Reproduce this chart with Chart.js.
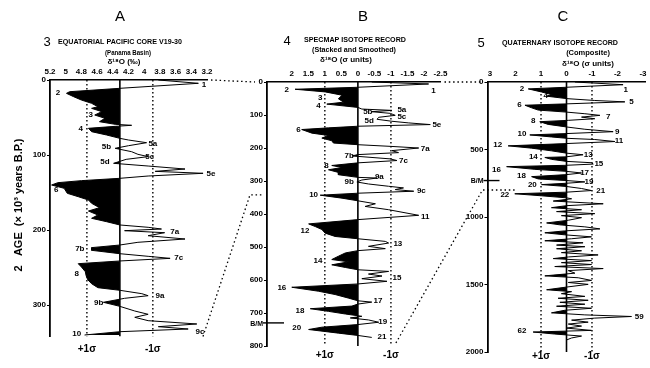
<!DOCTYPE html>
<html>
<head>
<meta charset="utf-8">
<script src="https://cdn.jsdelivr.net/npm/chart.js@4/dist/chart.umd.min.js"></script>
<style>
body { margin: 0; background: #fff; }
#wrap { position: relative; width: 650px; height: 368px; }
#wrap canvas { position: absolute; left: 0; top: 0; }
</style>
</head>
<body>
<div id="wrap">
<canvas id="cA" width="650" height="368"></canvas>
<canvas id="cB" width="650" height="368"></canvas>
<canvas id="cC" width="650" height="368"></canvas>
</div>
<script>
// A: V19-30 コア (年代 ka, δ18O ‰)
const ageA = [0, 4.4, 11.1, 15.6, 17.8, 22.2, 26.7, 31.1, 35.6, 37.8, 42.2, 46.7, 51.1, 55.6, 59.1, 60.4, 61.8, 64.4, 68.9, 73.3,
  77.8, 80, 83.6, 87.6, 91.1, 95.6, 99.1, 102.2, 105.8, 111.1, 114.7, 118.7, 121.8, 124.4, 128, 131.1, 134.2, 136.9, 140, 144.4,
  151.1, 155.6, 160, 164.4, 170.2, 174.7, 180, 184.4, 188.9, 193.3, 196.4, 198.7, 200.9, 203.6, 207.6, 212, 216.4, 220, 223.5, 227.1,
  231.6, 235.1, 237.8, 241.3, 244.9, 249.3, 255.6, 260.9, 266.2, 271.6, 276.9, 280.4, 284.9, 287.6, 291.1, 296.4, 301.8, 308, 312.4, 316.4,
  320.9, 325.3, 328.9, 332, 335.6, 340];
const valA = [3.82, 3.31, 4.31, 4.95, 4.99, 4.90, 4.80, 4.67, 4.59, 4.67, 4.54, 4.63, 4.50, 4.57, 4.37, 4.16, 4.37, 4.71, 4.67, 4.48,
  4.31, 4.20, 3.97, 4.20, 4.37, 4.16, 4.08, 3.95, 4.23, 4.39, 3.95, 3.48, 3.86, 3.25, 3.95, 4.31, 4.80, 5.10, 5.18, 5.02,
  4.98, 4.84, 4.71, 4.67, 4.57, 4.71, 4.59, 4.67, 4.48, 4.31, 3.95, 3.78, 4.25, 3.74, 3.95, 3.48, 4.08, 4.31, 4.67, 4.67,
  4.31, 3.95, 3.67, 4.31, 4.84, 4.80, 4.75, 4.74, 4.72, 4.67, 4.59, 4.31, 4.03, 3.95, 4.25, 4.52, 4.31, 4.12, 3.95, 4.12,
  3.95, 3.33, 3.82, 3.44, 4.31, 4.76];
const ticksAx = [5.2, 5, 4.8, 4.6, 4.4, 4.2, 4, 3.8, 3.6, 3.4, 3.2];
const ticksAy = [0, 100, 200, 300];
const stagesA = [['1', 6.7, 3.24], ['2', 17.7, 5.10], ['3', 46.7, 4.68], ['4', 65.3, 4.81], ['5a', 84.4, 3.89], ['5b', 88.8, 4.48],
  ['5c', 102, 3.93], ['5d', 109.7, 4.50], ['5e', 124.4, 3.15], ['6', 146.5, 5.12], ['7a', 203, 3.61], ['7b', 224.4, 4.82],
  ['7c', 237.7, 3.56], ['8', 259, 4.86], ['9a', 287.5, 3.80], ['9b', 296.8, 4.58], ['9c', 335.5, 3.29], ['10', 339, 4.86]];

// B: SPECMAP スタック (σ単位)
const ageB = [0, 6, 16, 22, 30, 40, 51, 61, 67, 77, 82, 86, 90, 95, 101, 107, 113, 119, 124, 129,
  134, 139, 144, 155, 162, 170, 178, 185, 190, 195, 200, 208, 214, 220, 224, 233, 238, 245, 253, 259,
  266, 274, 281, 289, 291, 297, 303, 309, 316, 321, 326, 331, 337, 343, 352, 360, 369, 377, 387, 404,
  417, 430, 438, 447, 458, 468, 475, 483, 488, 498, 505, 511, 518, 528, 538, 545, 554, 562, 569, 574,
  582, 588, 596, 604, 612, 622, 634, 644, 655, 663, 667, 673, 679, 687, 695, 703, 710, 715, 721, 728,
  735, 743, 750, 761, 768, 774];
const valB = [-0.42, -2.14, 0, 1.90, 0.99, 0.48, 0.59, 0.43, 0.94, 0, -0.12, -1.03, -0.42, -0.98, -1.13, -0.63, -0.58, -1.03, -1.54, -2.19,
  0, 0.89, 1.70, 1.39, 0.89, 1.09, 0.79, 0.74, 0, -0.98, -1.84, -1.03, -1.23, 0, 0.18, -0.98, -1.18, 0, 0.79, 0.48,
  0.89, 0.59, 0.59, 0, -0.58, -0.12, 0.03, -0.32, -0.93, -1.38, -1.13, -1.69, 0, 1.14, 0.48, 0, -0.53, -0.22, -0.93, -1.84,
  0, 1.49, 1.29, 1.09, 0.99, 0.69, 0, -0.83, -0.93, -0.32, -0.83, 0, 0.38, 0.59, 0.79, 0.28, 0.79, 0.38, 0, -0.93,
  -0.32, -0.73, -0.12, -0.88, 0, 2.0, 1.19, 0.69, 0.28, 0, -0.42, 0, 0.18, 1.44, 0.89, 0.38, -0.12, 0.23, -0.32, -0.63,
  0, 1.09, 1.49, 0.59, 0, -0.42];
const ticksBx = [2, 1.5, 1, 0.5, 0, -0.5, -1, -1.5, -2, -2.5];
const ticksBy = [0, 100, 200, 300, 400, 500, 600, 700, 800];
const stagesB = [['1', 26, -2.29], ['2', 23, 2.15], ['3', 48.5, 1.14], ['4', 70.7, 1.19], ['5a', 84, -1.33], ['5b', 89, -0.30],
  ['5c', 104, -1.33], ['5d', 117, -0.34], ['5e', 129, -2.39], ['6', 144.5, 1.80], ['7a', 202, -2.04], ['7b', 224, 0.26],
  ['7c', 240, -1.38], ['8', 255, 0.95], ['9a', 286, -0.65], ['9b', 301, 0.26], ['9c', 329, -1.92], ['10', 343, 1.34],
  ['11', 407, -2.04], ['12', 450, 1.6], ['13', 490, -1.21], ['14', 541, 1.21], ['15', 594, -1.18], ['16', 624, 2.3],
  ['17', 663, -0.61], ['18', 693, 1.75], ['19', 728, -0.75], ['20', 745, 1.85], ['21', 771, -0.73]];

// C: 第四紀コンポジット (σ単位)
const ageC = [0, 20, 39, 51, 74, 93, 105, 123, 137, 147, 162, 172, 191, 208, 223, 235, 247, 260, 272, 284,
  294, 314, 333, 350, 368, 382, 392, 407, 417, 426, 441, 456, 473, 490, 510, 527, 539, 554, 559, 573,
  588, 598, 608, 617, 627, 647, 662, 674, 686, 701, 718, 730, 740, 750, 760, 774, 789, 804, 816, 828,
  843, 858, 865, 882, 902, 916, 931, 946, 960, 975, 990, 1005, 1024, 1044, 1058, 1073, 1088, 1103, 1117, 1132,
  1147, 1161, 1176, 1191, 1208, 1220, 1235, 1250, 1264, 1281, 1296, 1308, 1323, 1338, 1352, 1367, 1382, 1397, 1416, 1436,
  1450, 1470, 1485, 1499, 1519, 1539, 1553, 1568, 1588, 1602, 1617, 1632, 1646, 1661, 1676, 1691, 1710, 1725, 1737, 1749,
  1764, 1779, 1793, 1808, 1823, 1840, 1852, 1867, 1882, 1896, 1911];
const valC = [-0.33, -2.22, 0, 1.50, 0.98, 0.59, 0.78, 0, -1.11, -2.29, 0, 1.63, 1.37, 1.11, 0, -0.72, -1.31, -0.59, -1.11, -0.07,
  1.05, 0.72, 0, -0.72, -1.83, 0, 1.44, 0.59, 0, -1.11, -1.90, 0, 2.29, 1.37, 0.59, 0, -0.65, 0, 0.85, 0.59,
  0, -0.98, -1.05, 0, 2.35, 1.24, 0, -0.59, 0, 1.37, 1.11, 0, -0.72, 0, 0.98, 0, -0.59, -0.98, 0, 2.03,
  0.98, 0, -0.20, 0.52, -1.44, 0, 0.59, -0.59, 0.39, -1.11, 0.20, -0.59, -0.07, 0.78, 0.26, -0.72, -1.31, 0.07, 0.85, 0.07,
  -0.98, -0.20, 0.85, -0.65, 0.39, -0.72, 0.39, -0.59, 0.20, -1.24, -0.07, 0.52, -0.98, 0.20, -0.98, 0.46, -1.44, -0.07, -0.33, 0.85,
  -0.46, -0.98, -0.07, -0.85, 0, 0.78, -0.20, 0.20, -0.72, 0.33, -0.85, 0.26, -0.72, 0.39, -0.98, 0.07, 0.59, -0.72, -2.55, -1.11,
  -0.20, -0.85, -0.07, -0.59, 0, -0.98, 1.31, 0.46, -0.59, -0.20, 0];
const ticksCx = [3, 2, 1, 0, -1, -2, -3];
const ticksCy = [0, 500, 1000, 1500, 2000];
const stagesC = [['1', 61, -2.32], ['2', 51, 1.75], ['4', 105, 0.82], ['5', 147, -2.55], ['6', 167, 1.85], ['7', 255, -1.64],
  ['8', 284, 1.31], ['9', 367, -1.99], ['10', 382, 1.75], ['11', 436, -2.06], ['12', 468, 2.7], ['13', 539, -0.85],
  ['14', 553, 1.30], ['15', 603, -1.27], ['16', 652, 2.75], ['17', 674, -0.71], ['18', 696, 1.77], ['19', 737, -0.88],
  ['20', 760, 1.34], ['21', 804, -1.34], ['22', 833, 2.42], ['59', 1740, -2.85], ['62', 1840, 1.75]];

const BM_AGE = 730;
const FAMILY = "'Liberation Sans', Arial, sans-serif";

Chart.defaults.font.family = FAMILY;
Chart.defaults.color = '#000';

function fmt(v) {
  return String(Math.round(v * 100) / 100);
}

function makePanel(id, p, extraPlugins) {
  const pts = p.ages.map((a, i) => ({x: p.vals[i], y: a}));
  const vline = v => [{x: v, y: 0}, {x: v, y: p.yMax}];
  const panelPlugin = {
    id: 'panel_' + id,
    // 塗りつぶしは中心線より左側(氷期側)だけ
    beforeDatasetsDraw(chart) {
      const c = chart.ctx;
      c.save();
      c.beginPath();
      c.rect(0, 0, chart.scales.x.getPixelForValue(p.mean), chart.height);
      c.clip();
    },
    afterDatasetDraw(chart, args) {
      if (args.index === 4) chart.ctx.restore();
    },
    afterDraw(chart) {
      const c = chart.ctx, xs = chart.scales.x, ys = chart.scales.y;
      c.save();
      c.fillStyle = '#000';
      c.strokeStyle = '#000';
      c.textAlign = 'center';
      c.textBaseline = 'middle';
      c.font = 'bold 8px ' + FAMILY;
      p.stages.forEach(s => c.fillText(s[0], xs.getPixelForValue(s[2]), ys.getPixelForValue(s[1])));
      c.font = 'bold 10px ' + FAMILY;
      c.fillText('+1\u03c3', xs.getPixelForValue(p.mean + p.sig), p.sigY);
      c.fillText('-1\u03c3', xs.getPixelForValue(p.mean - p.sig), p.sigY);
      if (p.bm) {
        const y = ys.getPixelForValue(BM_AGE);
        const L = chart.chartArea.left;
        c.lineWidth = 1.4;
        c.beginPath();
        c.moveTo(L - 4, y);
        c.lineTo(L + p.bm, y);
        c.stroke();
        c.font = 'bold 7px ' + FAMILY;
        c.textAlign = 'right';
        c.fillText('B/M', L - 4, y + 1);
      }
      c.restore();
    }
  };
  return new Chart(document.getElementById(id), {
    type: 'line',
    data: {
      datasets: [
        {data: pts, borderColor: '#000', borderWidth: 1, pointRadius: 0, fill: false},
        {data: vline(p.mean), borderColor: '#000', borderWidth: 1.6, pointRadius: 0, fill: false},
        {data: vline(p.mean + p.sig), borderColor: '#000', borderWidth: 1.4, borderDash: [1.5, 2.5], pointRadius: 0, fill: false},
        {data: vline(p.mean - p.sig), borderColor: '#000', borderWidth: 1.4, borderDash: [1.5, 2.5], pointRadius: 0, fill: false},
        {data: pts, borderWidth: 0, pointRadius: 0, backgroundColor: '#000', fill: {value: p.mean}}
      ]
    },
    options: {
      responsive: false,
      animation: false,
      indexAxis: 'y',
      layout: {padding: p.pad},
      plugins: {legend: {display: false}, tooltip: {enabled: false}},
      scales: {
        x: {
          type: 'linear', position: 'top', reverse: true, min: p.xMin, max: p.xMax,
          afterBuildTicks: s => { s.ticks = p.xTicks.map(v => ({value: v})); },
          afterFit: s => { s.height = 14; },
          grid: {display: false, drawTicks: false},
          border: {display: true, color: '#000', width: 1.6},
          ticks: {font: {size: 8, weight: 'bold'}, padding: 3, maxRotation: 0, autoSkip: false, callback: v => fmt(v)}
        },
        y: {
          type: 'linear', reverse: true, min: 0, max: p.yMax,
          afterBuildTicks: s => { s.ticks = p.yTicks.map(v => ({value: v})); },
          afterFit: s => { s.width = 30; },
          grid: {display: true, drawOnChartArea: false, drawTicks: true, tickLength: 3, color: '#000', lineWidth: 1},
          border: {display: true, color: '#000', width: 1.8},
          ticks: {font: {size: 8, weight: 'bold'}, padding: 1, autoSkip: false, callback: v => String(v)}
        }
      }
    },
    plugins: [panelPlugin].concat(extraPlugins || [])
  });
}

const chartA = makePanel('cA', {
  ages: ageA, vals: valA, stages: stagesA, xTicks: ticksAx, yTicks: ticksAy,
  xMin: 3.2, xMax: 5.2, yMax: 342, mean: 4.31, sig: 0.42, sigY: 349,
  pad: {left: 20, top: 66, right: 443, bottom: 31.5}
});

const chartB = makePanel('cB', {
  ages: ageB, vals: valB, stages: stagesB, xTicks: ticksBx, yTicks: ticksBy,
  xMin: -2.5, xMax: 2.75, yMax: 800, mean: 0, sig: 1, sigY: 355, bm: 17,
  pad: {left: 237, top: 68, right: 209.5, bottom: 22}
});

// タイトル・縦軸名・パネル間の点線
const pagePlugin = {
  id: 'page',
  afterDraw(chart) {
    const c = chart.ctx;
    const text = (s, x, y, font, align, maxW) => {
      c.font = font;
      c.textAlign = align || 'center';
      if (maxW) c.fillText(s, x, y, maxW); else c.fillText(s, x, y);
    };
    c.save();
    c.fillStyle = '#000';
    c.textBaseline = 'middle';
    text('A', 120, 17, '15px ' + FAMILY);
    text('B', 363, 17, '15px ' + FAMILY);
    text('C', 563, 17, '15px ' + FAMILY);

    text('3', 47, 42, '13px ' + FAMILY);
    text('EQUATORIAL PACIFIC CORE V19-30', 58, 42, 'bold 7.5px ' + FAMILY, 'left', 124);
    text('(Panama Basin)', 128, 53, 'bold 7.5px ' + FAMILY, 'center', 46);
    text('\u03b4\u00b9\u2078O (\u2030)', 124, 62, 'bold 8px ' + FAMILY);

    text('4', 287, 41, '13px ' + FAMILY);
    text('SPECMAP ISOTOPE RECORD', 304, 40, 'bold 7.5px ' + FAMILY, 'left', 102);
    text('(Stacked and Smoothed)', 354, 50, 'bold 7.5px ' + FAMILY, 'center', 84);
    text('\u03b4\u00b9\u2078O (\u03c3 units)', 346, 60, 'bold 8px ' + FAMILY);

    text('5', 481, 43, '13px ' + FAMILY);
    text('QUATERNARY ISOTOPE RECORD', 502, 43, 'bold 7.5px ' + FAMILY, 'left', 116);
    text('(Composite)', 588, 53, 'bold 7.5px ' + FAMILY);
    text('\u03b4\u00b9\u2078O (\u03c3 units)', 588, 64, 'bold 8px ' + FAMILY);

    c.save();
    c.translate(19, 205);
    c.rotate(-Math.PI / 2);
    text('2   AGE  (\u00d7 10\u00b3 years B.P.)', 0, 0, 'bold 11px ' + FAMILY, 'center', 150);
    c.restore();

    // 点線の対応線
    const aA = chartA.chartArea, aB = chartB.chartArea, aC = chart.chartArea;
    const yB = v => chartB.scales.y.getPixelForValue(v);
    const yC = v => chart.scales.y.getPixelForValue(v);
    c.strokeStyle = '#000';
    c.lineWidth = 1.3;
    c.setLineDash([1.5, 2.8]);
    c.beginPath();
    c.moveTo(aA.right + 4, aA.top);
    c.lineTo(aB.left - 12, yB(0));
    c.moveTo(aA.right - 4, aA.bottom);
    c.lineTo(aB.left - 17, yB(chartA.scales.y.max));
    c.lineTo(aB.left - 3, yB(chartA.scales.y.max));
    c.moveTo(aB.right + 4, aB.top);
    c.lineTo(aC.left - 6, yC(0));
    c.moveTo(chartB.scales.x.getPixelForValue(-1) + 5, aB.bottom - 3);
    c.lineTo(aC.left - 5, yC(chartB.scales.y.max));
    c.lineTo(chart.scales.x.getPixelForValue(2.0), yC(chartB.scales.y.max));
    c.stroke();
    c.restore();
  }
};

const chartC = makePanel('cC', {
  ages: ageC, vals: valC, stages: stagesC, xTicks: ticksCx, yTicks: ticksCy,
  xMin: -3.1, xMax: 3.1, yMax: 2000, mean: 0, sig: 1, sigY: 356, bm: 12,
  pad: {left: 457.5, top: 68, right: 4.5, bottom: 16}
}, [pagePlugin]);
</script>
</body>
</html>
